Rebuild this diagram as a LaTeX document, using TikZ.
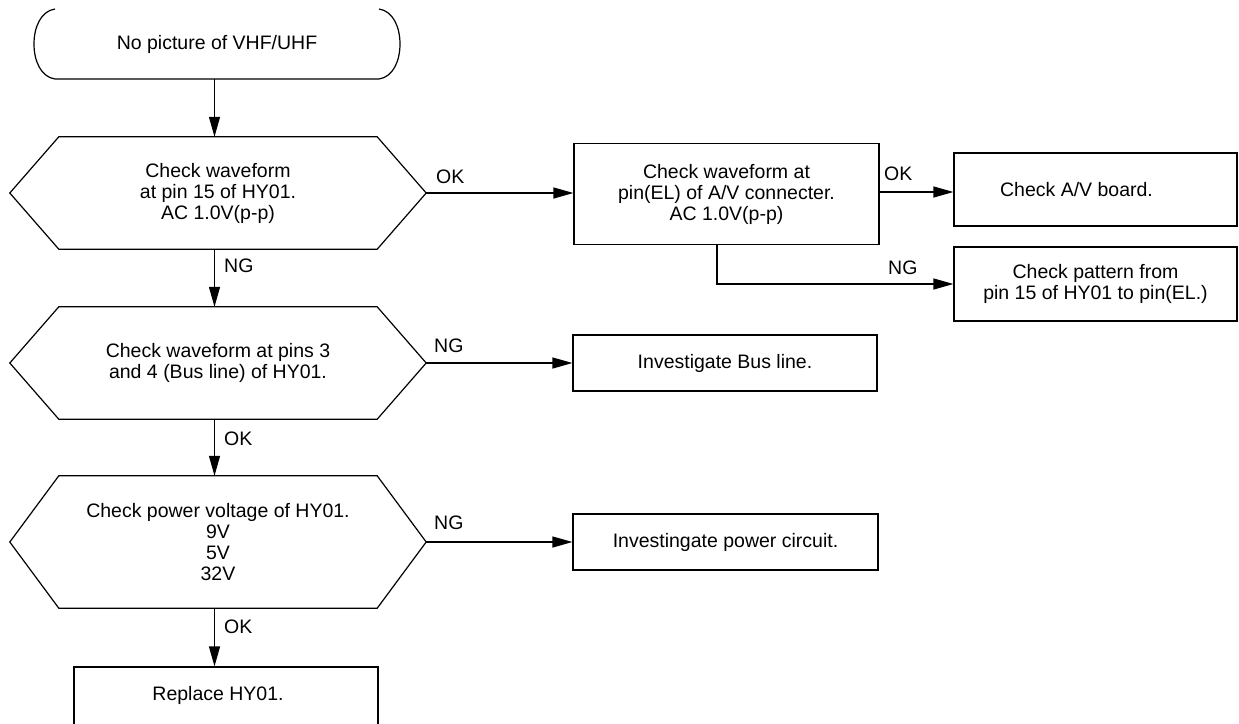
\documentclass[tikz,border=0pt]{standalone}
\usepackage{fontspec}
\setmainfont{Liberation Sans}
\usetikzlibrary{arrows.meta,calc}
\begin{document}
\begin{tikzpicture}[x=1pt,y=-1pt,
  every node/.style={font=\fontsize{19.5}{21}\selectfont, inner sep=0pt, align=center},
  line/.style={line width=1.2pt},
  box/.style={draw, line width=1.2pt},
  hexarea/.style={minimum width=416pt},
  flow/.style={line width=1.2pt, -{Triangle[length=20pt,width=11pt]}},
  tag/.style={anchor=base west}
]
\useasboundingbox (0,0) rectangle (1239,723);
\clip (0,0) rectangle (1239,723);

% start terminal
\node[minimum width=366pt, minimum height=70pt] (term) at (217,44) {No picture of VHF/UHF};
\draw[line] (55,9) .. controls (41,11) and (34,27) .. (34,44)
  .. controls (34,61) and (41,77) .. (55,79) -- (379,79)
  .. controls (393,77) and (400,61) .. (400,44)
  .. controls (400,27) and (393,11) .. (379,9);

% decision hexagons
\node[hexarea, minimum height=112pt] (h1) at (218,193) {Check waveform\\at pin 15 of HY01.\\AC 1.0V(p-p)};
\node[hexarea, minimum height=112pt] (h2) at (218,363) {Check waveform at pins 3\\and 4 (Bus line) of HY01.};
\node[hexarea, minimum height=132pt] (h3) at (218,542) {Check power voltage of HY01.\\9V\\5V\\32V};
\foreach \n in {h1,h2,h3}
  \draw[line] (\n.west) -- ([xshift=49pt]\n.north west) -- ([xshift=-49pt]\n.north east)
    -- (\n.east) -- ([xshift=-49pt]\n.south east) -- ([xshift=49pt]\n.south west) -- cycle;

% action boxes
\node[box, minimum width=305pt, minimum height=101pt] (cA) at (726.5,194) {Check waveform at\\pin(EL) of A/V connecter.\\AC 1.0V(p-p)};
\node[box, minimum width=283pt, minimum height=73pt,
      label={[xshift=-19pt]center:Check A/V board.}] (cB) at (1095.5,189.5) {};
\node[box, minimum width=283pt, minimum height=74pt] (cC) at (1095.5,284) {Check pattern from\\pin 15 of HY01 to pin(EL.)};
\node[box, minimum width=304pt, minimum height=56pt] (bus) at (725,363) {Investigate Bus line.};
\node[box, minimum width=305pt, minimum height=56pt] (pwr) at (725.5,542) {Investingate power circuit.};
\node[box, minimum width=304pt, minimum height=60pt,
      label={[xshift=-8pt,yshift=2pt]center:Replace HY01.}] (rep) at (226,697) {};

% connectors
\coordinate (spine) at (214.5,0);
\draw[flow] (term.south -| spine) -- (h1.north -| spine);
\draw[flow] (h1.south -| spine) -- (h2.north -| spine);
\draw[flow] (h2.south -| spine) -- (h3.north -| spine);
\draw[flow] (h3.south -| spine) -- (rep.north -| spine);
\draw[flow] (h1.east) -- (h1.east -| cA.west);
\draw[flow] ([yshift=2pt]cA.east) -- ([yshift=2pt]cA.east -| cB.west);
\draw[flow] ([xshift=-9.5pt]cA.south) |- (cC.west);
\draw[flow] (h2.east) -- (bus.west);
\draw[flow] (h3.east) -- (pwr.west);

% branch labels
\node[tag] (okA) at (436,183) {OK};
\node[tag] (okB) at (884,180) {OK};
\node[tag] (ngC) at (888,274) {NG};
\node[tag] (ng1) at (224,272) {NG};
\node[tag] (ng2) at (434,352) {NG};
\node[tag] (ok2) at (224,445) {OK};
\node[tag] (ng3) at (434,529) {NG};
\node[tag] (ok3) at (224,633) {OK};
\end{tikzpicture}
\end{document}
